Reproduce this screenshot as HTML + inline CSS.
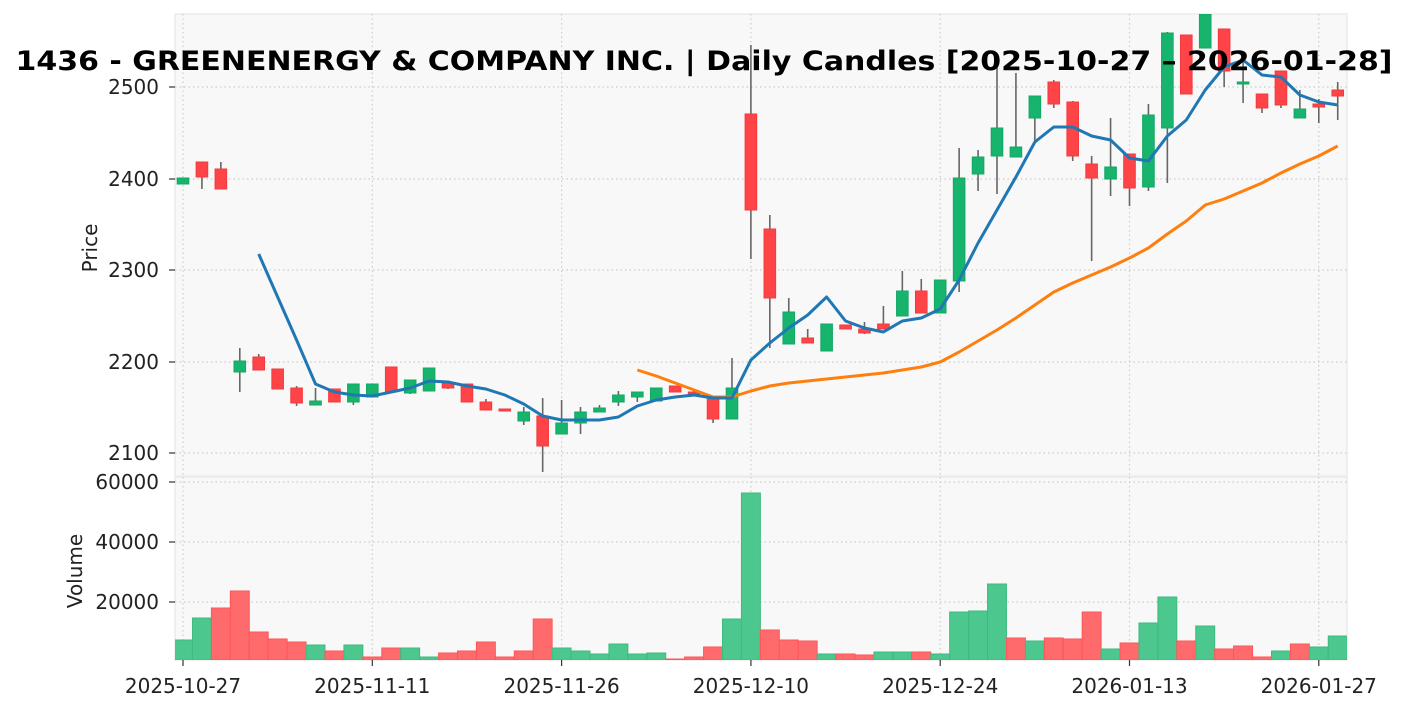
<!DOCTYPE html>
<html><head><meta charset="utf-8"><style>
html,body{margin:0;padding:0;background:#fff;}
svg{display:block;font-family:"DejaVu Sans","Liberation Sans",sans-serif;}
</style></head><body>
<svg id="c" width="1408" height="711" xmlns="http://www.w3.org/2000/svg"></svg>
<script>
const s=document.getElementById('c');
let h='';
h+='<defs><clipPath id="pc"><rect x="175" y="14" width="1172" height="462"/></clipPath><clipPath id="vc"><rect x="175" y="477" width="1172" height="183"/></clipPath></defs>';
h+='<rect x="175" y="14" width="1172" height="462" fill="#f8f8f8" stroke="#ebebeb" stroke-width="1.5"/>';
h+='<rect x="175" y="477" width="1172" height="183" fill="#f8f8f8" stroke="#ebebeb" stroke-width="1.5"/>';
const X=i=>183+i*18.93;
const g='stroke="#cccccc" stroke-width="1.2" stroke-dasharray="1.5,3"';
const xl=['2025-10-27','2025-11-11','2025-11-26','2025-12-10','2025-12-24','2026-01-13','2026-01-27'];
xl.forEach((t,k)=>{const x=X(k*10);
 h+=`<line x1="${x}" y1="14" x2="${x}" y2="476" ${g}/><line x1="${x}" y1="477" x2="${x}" y2="660" ${g}/>`;
 h+=`<line x1="${x}" y1="660" x2="${x}" y2="666" stroke="#333" stroke-width="1.2"/>`;
 h+=`<text x="${x}" y="693" font-size="20" text-anchor="middle" fill="#222">${t}</text>`;});
[[2100,453],[2200,362],[2300,270],[2400,179],[2500,87]].forEach(([v,y])=>{
 h+=`<line x1="175" y1="${y}" x2="1347" y2="${y}" ${g}/><line x1="169" y1="${y}" x2="175" y2="${y}" stroke="#333" stroke-width="1.2"/>`;
 h+=`<text x="159" y="${y+7}" font-size="20" text-anchor="end" fill="#222">${v}</text>`;});
[[20000,602],[40000,542],[60000,482]].forEach(([v,y])=>{
 h+=`<line x1="175" y1="${y}" x2="1347" y2="${y}" ${g}/><line x1="169" y1="${y}" x2="175" y2="${y}" stroke="#333" stroke-width="1.2"/>`;
 h+=`<text x="159" y="${y+7}" font-size="20" text-anchor="end" fill="#222">${v}</text>`;});
h+='<text transform="translate(97,248) rotate(-90)" font-size="20" text-anchor="middle" fill="#222">Price</text>';
h+='<text transform="translate(82,571) rotate(-90)" font-size="20" text-anchor="middle" fill="#222">Volume</text>';
const C=[
['g',178,184,178,184],['r',162,177,162,189],['r',169,189,162,189],['g',361,372,348,392],['r',357,370,354,370],
['r',369,389,369,389],['r',388,403,386,406],['g',401,405,388,405],['r',389,402,389,402],['g',384,402,384,405],
['g',384,397,384,397],['r',367,392,367,392],['g',380,393,380,394],['g',368,391,368,391],['r',383,388,383,389],
['r',384,402,384,402],['r',402,410,399,410],['r',409,411,409,411],['g',412,421,407,425],['r',416,446,398,472],
['g',423,434,400,434],['g',412,423,407,434],['g',408,412,405,412],['g',395,402,391,406],['g',392,397,392,402],
['g',388,401,388,401],['r',386,392,386,392],['r',392,394,390,394],['r',397,419,397,423],['g',388,419,358,419],
['r',114,210,45,259],['r',229,298,215,348],['g',312,344,298,344],['r',338,343,329,343],['g',324,351,324,351],
['r',325,329,325,329],['r',329,333,322,334],['r',324,329,306,329],['g',291,316,271,316],['r',291,313,279,313],
['g',280,313,280,313],['g',178,281,148,292],['g',157,174,150,191],['g',128,156,67,194],['g',147,157,73,157],
['g',96,118,96,141],['r',82,104,80,108],['r',102,156,101,161],['r',164,178,156,261],['g',167,179,118,196],
['r',154,188,154,206],['g',115,187,104,191],['g',33,128,32,183],['r',35,94,35,94],['g',14,48,10,48],
['r',29,71,29,87],['g',82,84,60,103],['r',94,108,94,113],['r',71,105,71,108],['g',109,118,90,118],
['r',104,107,99,123],['r',90,96,82,120]];
h+='<g clip-path="url(#pc)">';
C.forEach((c,i)=>{const x=X(i);const col=c[0]=='g'?'#16b46c':'#ff4447';const st=c[0]=='g'?'#14a764':'#f23a3d';
 h+=`<line x1="${x}" y1="${c[3]}" x2="${x}" y2="${c[4]}" stroke="#666" stroke-width="1.6"/>`;
 h+=`<rect x="${x-5.8}" y="${c[1]}" width="11.6" height="${Math.max(c[2]-c[1],2)}" fill="${col}" stroke="${st}" stroke-width="1"/>`;});
const blue=[[4,254],[5,297],[6,340],[7,384],[8,392],[9,395],[10,396],[11,392],[12,388],[13,381],[14,382],[15,386],[16,389],[17,395],[18,404],[19,416],[20,420],[21,420],[22,420],[23,417],[24,406],[25,400],[26,397],[27,395],[28,398],[29,398],[30,360],[31,343],[32,328],[33,315],[34,297],[35,321],[36,328],[37,332],[38,321],[39,318],[40,309],[41,280],[42,243],[43,210],[44,177],[45,142],[46,127],[47,127],[48,136],[49,140],[50,158],[51,161],[52,136],[53,120],[54,90],[55,67],[56,60],[57,75],[58,77],[59,95],[60,102],[61,105]];
const org=[[24,370],[25,376],[26,383],[27,390],[28,397],[29,397],[30,391],[31,386],[32,383],[33,381],[34,379],[35,377],[36,375],[37,373],[38,370],[39,367],[40,362],[41,352],[42,341],[43,330],[44,318],[45,305],[46,292],[47,283],[48,275],[49,267],[50,258],[51,248],[52,234],[53,221],[54,205],[55,199],[56,191],[57,183],[58,173],[59,164],[60,156],[61,146]];
h+=`<polyline fill="none" stroke="#ff7f0e" stroke-width="3" stroke-linejoin="round" points="${org.map(p=>X(p[0])+','+p[1]).join(' ')}"/>`;
h+=`<polyline fill="none" stroke="#1f77b4" stroke-width="3" stroke-linejoin="round" points="${blue.map(p=>X(p[0])+','+p[1]).join(' ')}"/>`;
h+='</g>';
const V=[640,618,608,591,632,639,642,645,651,645,657,648,648,657,653,651,642,657,651,619,648,651,654,644,654,653,659,657,647,619,493,630,640,641,654,654,655,652,652,652,654,612,611,584,638,641,638,639,612,649,643,623,597,641,626,649,646,657,651,644,647,636];
const VC='ggrrrrrgrgrrggrrrrrrggggggrrrggrrrgrrggrggggrgrrrgrggrgrrrgrgg';
h+='<g clip-path="url(#vc)">';
V.forEach((y,i)=>{const x=X(i);const gr=VC[i]=='g';
 h+=`<rect x="${x-9.46}" y="${y}" width="18.93" height="${660-y}" fill="${gr?'#4cc78d':'#ff6b6d'}" stroke="${gr?'#3dbb7f':'#ff5558'}" stroke-width="1"/>`;});
h+='</g>';
h+='<text x="704" y="70" font-size="27" font-weight="bold" text-anchor="middle" textLength="1377" lengthAdjust="spacingAndGlyphs" fill="#000">1436 - GREENENERGY &amp; COMPANY INC. | Daily Candles [2025-10-27 – 2026-01-28]</text>';
s.innerHTML=h;
</script>
</body></html>
